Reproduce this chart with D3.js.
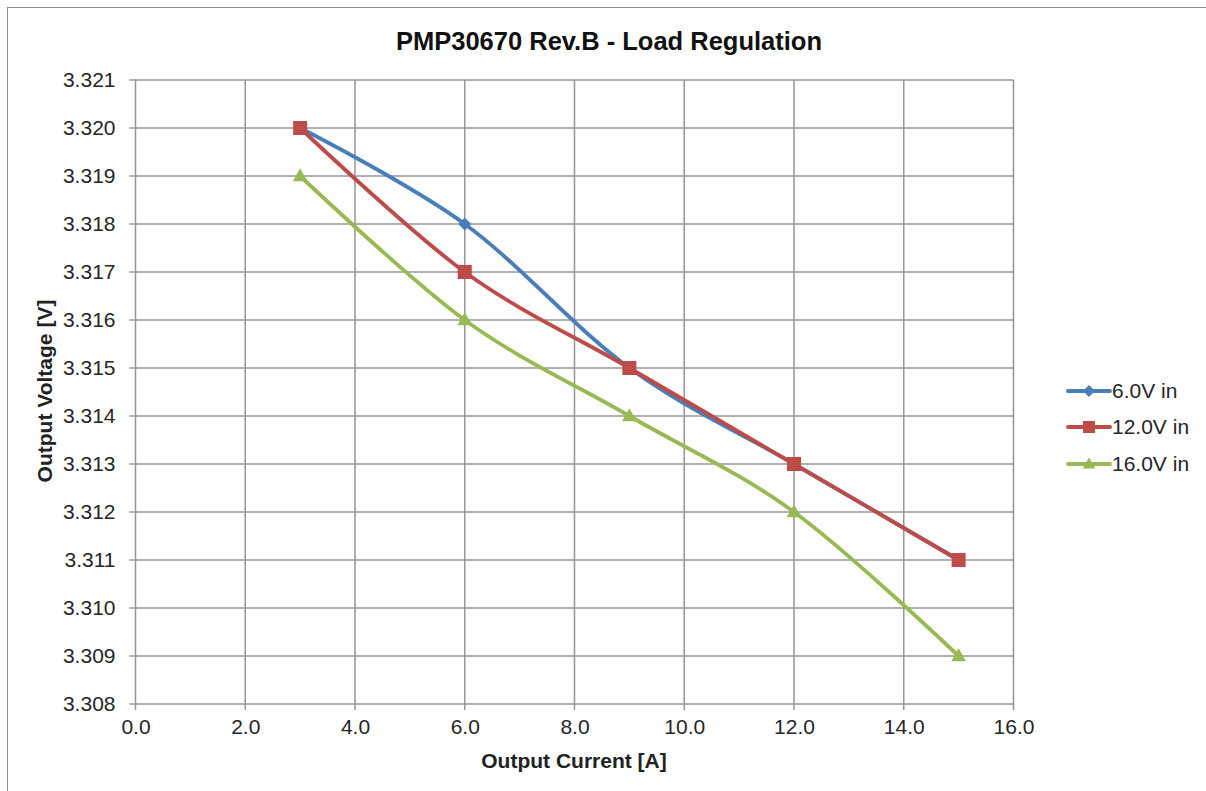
<!DOCTYPE html>
<html><head><meta charset="utf-8">
<script src="https://cdn.jsdelivr.net/npm/d3@7"></script>
<style>body{margin:0;background:#fff}svg{display:block;font-family:"Liberation Sans",Arial,sans-serif}</style>
</head><body>
<script>
const current = [3, 6, 9, 12, 15];
const seriesNames = ["6.0V in", "12.0V in", "16.0V in"];
const v6 = [3.320, 3.318, 3.315, 3.313, 3.311];
const v12 = [3.320, 3.317, 3.315, 3.313, 3.311];
const v16 = [3.319, 3.316, 3.314, 3.312, 3.309];
const xTicks = [0, 2, 4, 6, 8, 10, 12, 14, 16];
const yTicks = [3.308, 3.309, 3.310, 3.311, 3.312, 3.313, 3.314, 3.315, 3.316, 3.317, 3.318, 3.319, 3.320, 3.321];
const colors = ["#4A7EBB", "#BE4B48", "#98B954"];
const markers = ["diamond", "square", "triangle"];

const W = 1206, H = 791;
const svg = d3.select("body").append("svg").attr("width", W).attr("height", H);
svg.append("rect").attr("x", 7.5).attr("y", 7.5).attr("width", W).attr("height", H).attr("fill", "#fff").attr("stroke", "#8c8c8c").attr("stroke-width", 1);

const x = d3.scaleLinear().domain([0, 16]).range([135.5, 1013.5]);
const y = d3.scaleLinear().domain([3.308, 3.321]).range([704, 80]);
const grid = "#969696";

svg.append("g").selectAll("line").data(xTicks).join("line")
  .attr("x1", d => x(d)).attr("x2", d => x(d)).attr("y1", y(3.321)).attr("y2", y(3.308) + 6)
  .attr("stroke", grid).attr("stroke-width", 1.5);
svg.append("g").selectAll("line").data(yTicks).join("line")
  .attr("x1", x(0) - 6).attr("x2", x(16)).attr("y1", d => y(d)).attr("y2", d => y(d))
  .attr("stroke", grid).attr("stroke-width", 1.5);

const xAxis = svg.append("g").attr("transform", `translate(0,${y(3.308)})`)
  .call(d3.axisBottom(x).tickValues(xTicks).tickFormat(d3.format(".1f")).tickSize(0).tickPadding(15));
const yAxis = svg.append("g").attr("transform", `translate(${x(0)},0)`)
  .call(d3.axisLeft(y).tickValues(yTicks).tickFormat(d3.format(".3f")).tickSize(0).tickPadding(20));
[xAxis, yAxis].forEach(a => {
  a.select(".domain").remove();
  a.selectAll("text").attr("font-size", 21).attr("fill", "#262626").attr("font-family", "Liberation Sans, Arial, sans-serif");
});
xAxis.selectAll("text").attr("dy", "0.71em");

svg.append("text").attr("x", 609).attr("y", 50).attr("text-anchor", "middle")
  .attr("font-size", 25.5).attr("font-weight", "bold").attr("fill", "#111").text("PMP30670 Rev.B - Load Regulation");
svg.append("text").attr("x", 574).attr("y", 768).attr("text-anchor", "middle")
  .attr("font-size", 21).attr("font-weight", "bold").attr("fill", "#222").text("Output Current [A]");
svg.append("text").attr("transform", "translate(52,391) rotate(-90)").attr("text-anchor", "middle")
  .attr("font-size", 21).attr("font-weight", "bold").attr("fill", "#222").text("Output Voltage [V]");

const data = [v6, v12, v16];
const line = d3.line().x((d, i) => x(current[i])).y(d => y(d)).curve(d3.curveCardinal.tension(0));

function markerPath(type, s) {
  if (type === "diamond") return `M0,${-s}L${s},0L0,${s}L${-s},0Z`;
  if (type === "square") return `M${-s},${-s}H${s}V${s}H${-s}Z`;
  return `M0,${-s * 1.1}L${s * 1.05},${s * 0.75}L${-s * 1.05},${s * 0.75}Z`;
}
const msize = [6.5, 7, 7];

data.forEach((vals, k) => {
  const g = svg.append("g");
  g.append("path").attr("d", line(vals)).attr("fill", "none").attr("stroke", colors[k]).attr("stroke-width", 3.8)
    .attr("stroke-linejoin", "round").attr("stroke-linecap", "round");
  g.selectAll("path.m").data(vals).join("path").attr("class", "m")
    .attr("transform", (d, i) => `translate(${x(current[i])},${y(d)})`)
    .attr("d", markerPath(markers[k], msize[k])).attr("fill", colors[k]);
});

const ly = [391, 427, 464];
seriesNames.forEach((n, k) => {
  const g = svg.append("g").attr("transform", `translate(0,${ly[k]})`);
  g.append("line").attr("x1", 1068).attr("x2", 1110).attr("y1", 0).attr("y2", 0).attr("stroke", colors[k]).attr("stroke-width", 3.8).attr("stroke-linecap", "round");
  g.append("path").attr("transform", "translate(1089,0)").attr("d", markerPath(markers[k], 6)).attr("fill", colors[k]);
  g.append("text").attr("x", 1112).attr("y", 0).attr("dy", "0.35em").attr("font-size", 21).attr("fill", "#262626").text(n);
});
</script>
</body></html>
